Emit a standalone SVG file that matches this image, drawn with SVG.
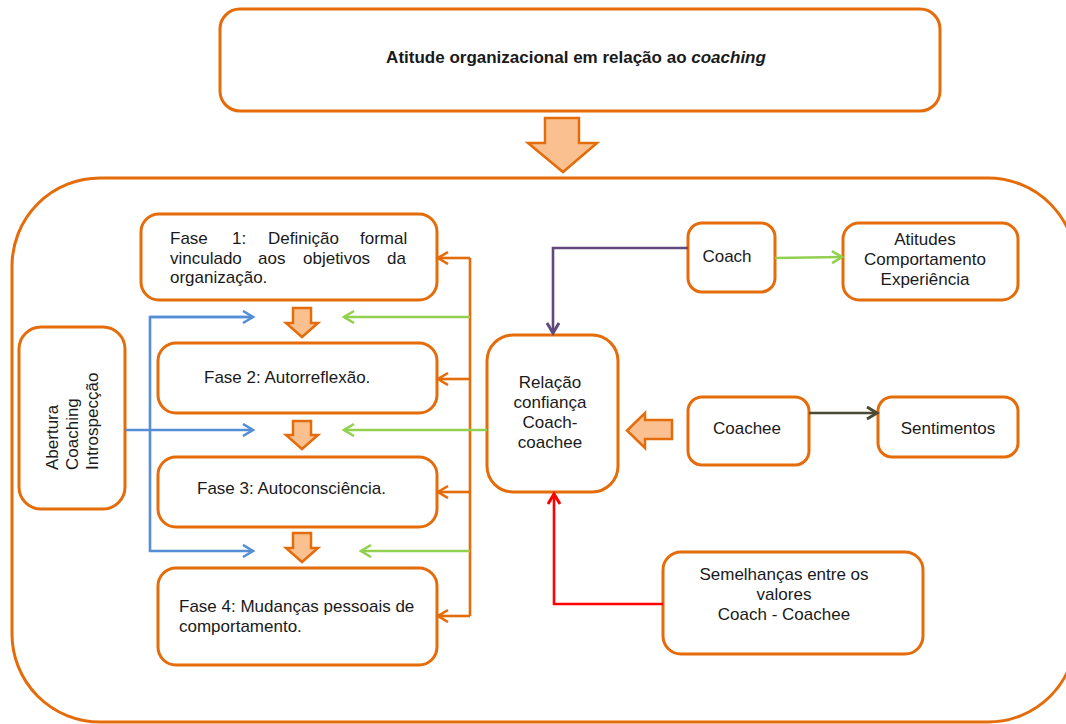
<svg xmlns="http://www.w3.org/2000/svg" width="1066" height="724" viewBox="0 0 1066 724">
<style>
.box{fill:#fff;stroke:#E46C0A;stroke-width:3}
.blk{fill:#FAC090;stroke:#E46C0A;stroke-width:2.5;stroke-linejoin:miter}
.t{font-family:"Liberation Sans",Arial,sans-serif;font-size:17px;fill:#1a1a1a}
.c{text-anchor:middle}
.ln{fill:none;stroke-width:2.6;stroke-linejoin:miter}
</style>
<defs>
<marker id="mBlue" markerUnits="userSpaceOnUse" markerWidth="14" markerHeight="16" refX="11" refY="7" orient="auto"><path d="M1,1 L11,7 L1,13" fill="none" stroke="#558ED5" stroke-width="2.6"/></marker>
<marker id="mGreen" markerUnits="userSpaceOnUse" markerWidth="14" markerHeight="16" refX="11" refY="7" orient="auto"><path d="M1,1 L11,7 L1,13" fill="none" stroke="#92D050" stroke-width="2.6"/></marker>
<marker id="mOrange" markerUnits="userSpaceOnUse" markerWidth="14" markerHeight="16" refX="11" refY="7" orient="auto"><path d="M1,1 L11,7 L1,13" fill="none" stroke="#E46C0A" stroke-width="2.6"/></marker>
<marker id="mPurple" markerUnits="userSpaceOnUse" markerWidth="14" markerHeight="16" refX="11" refY="7" orient="auto"><path d="M1,1 L11,7 L1,13" fill="none" stroke="#604A7B" stroke-width="3"/></marker>
<marker id="mRed" markerUnits="userSpaceOnUse" markerWidth="14" markerHeight="16" refX="11" refY="7" orient="auto"><path d="M1,1 L11,7 L1,13" fill="none" stroke="#FF0000" stroke-width="3"/></marker>
<marker id="mDark" markerUnits="userSpaceOnUse" markerWidth="14" markerHeight="16" refX="11" refY="7" orient="auto"><path d="M1,1 L11,7 L1,13" fill="none" stroke="#4A4A35" stroke-width="3"/></marker>
</defs>
<rect width="1066" height="724" fill="#fff"/>

<g id="container"><rect class="box" x="12" y="178" width="1064" height="544" rx="88"/></g>

<g id="top">
<rect class="box" x="220" y="9" width="720" height="102" rx="20"/>
<text class="t c" x="576" y="63" style="font-weight:bold">Atitude organizacional em relação ao <tspan font-style="italic">coaching</tspan></text>
</g>
<g id="top-arrow"><path class="blk" d="M545,118 H579 V143 H597 L563,172 L528,143 H545 Z"/></g>

<g id="fase1">
<rect class="box" x="141" y="214" width="296" height="86" rx="18"/>
<text class="t" y="244"><tspan x="170">Fase</tspan><tspan x="232">1:</tspan><tspan x="268">Definição</tspan><tspan x="360">formal</tspan></text>
<text class="t" y="264"><tspan x="170">vinculado</tspan><tspan x="258">aos</tspan><tspan x="303">objetivos</tspan><tspan x="387">da</tspan></text>
<text class="t" x="170" y="283">organização.</text>
</g>
<g id="fase2">
<rect class="box" x="158" y="343" width="279" height="70" rx="18"/>
<text class="t" x="204" y="383">Fase 2: Autorreflexão.</text>
</g>
<g id="fase3">
<rect class="box" x="158" y="457" width="279" height="70" rx="18"/>
<text class="t" x="197" y="494">Fase 3: Autoconsciência.</text>
</g>
<g id="fase4">
<rect class="box" x="158" y="568" width="279" height="97" rx="18"/>
<text class="t" x="179" y="612">Fase 4: Mudanças pessoais de</text>
<text class="t" x="179" y="632">comportamento.</text>
</g>

<g id="phase-arrows">
<path class="blk" d="M293,308 H311 V323 H318 L302,337 L286,323 H293 Z"/>
<path class="blk" d="M293,421 H311 V435 H318 L302,449 L286,435 H293 Z"/>
<path class="blk" d="M293,533 H311 V548 H318 L302,562 L286,548 H293 Z"/>
</g>

<g id="abertura">
<rect class="box" x="19" y="327" width="106" height="182" rx="22"/>
<g transform="translate(58,470) rotate(-90)">
<text class="t" x="0" y="0">Abertura</text>
<text class="t" x="0" y="20">Coaching</text>
<text class="t" x="0" y="40">Introspecção</text>
</g>
</g>

<g id="relacao">
<rect class="box" x="487" y="335" width="131" height="157" rx="26"/>
<text class="t c" x="550" y="388">Relação</text>
<text class="t c" x="550" y="408">confiança</text>
<text class="t c" x="550" y="428">Coach-</text>
<text class="t c" x="550" y="448">coachee</text>
</g>

<g id="coach">
<rect class="box" x="688" y="223" width="87" height="69" rx="14"/>
<text class="t c" x="727" y="262">Coach</text>
</g>
<g id="atitudes">
<rect class="box" x="843" y="223" width="175" height="77" rx="16"/>
<text class="t c" x="925" y="245">Atitudes</text>
<text class="t c" x="925" y="265">Comportamento</text>
<text class="t c" x="925" y="285">Experiência</text>
</g>
<g id="coachee">
<rect class="box" x="688" y="397" width="121" height="68" rx="14"/>
<text class="t c" x="747" y="434">Coachee</text>
</g>
<g id="sentimentos">
<rect class="box" x="878" y="397" width="140" height="60" rx="14"/>
<text class="t c" x="948" y="434">Sentimentos</text>
</g>
<g id="semelhancas">
<rect class="box" x="663" y="552" width="260" height="102" rx="18"/>
<text class="t c" x="784" y="580">Semelhanças entre os</text>
<text class="t c" x="784" y="600">valores</text>
<text class="t c" x="784" y="620">Coach - Coachee</text>
</g>
<g id="coachee-arrow"><path class="blk" d="M672,420 H645 V413 L627,430.5 L645,448 V439 H672 Z"/></g>

<g id="connectors">
<path class="ln" stroke="#E46C0A" d="M470,258 V616"/>
<path class="ln" stroke="#E46C0A" d="M470,258 H438" marker-end="url(#mOrange)"/>
<path class="ln" stroke="#E46C0A" d="M470,379 H438" marker-end="url(#mOrange)"/>
<path class="ln" stroke="#E46C0A" d="M470,492 H438" marker-end="url(#mOrange)"/>
<path class="ln" stroke="#E46C0A" d="M470,616 H438" marker-end="url(#mOrange)"/>

<path class="ln" stroke="#92D050" d="M470,317 H344" marker-end="url(#mGreen)"/>
<path class="ln" stroke="#92D050" d="M487,430 H344" marker-end="url(#mGreen)"/>
<path class="ln" stroke="#92D050" d="M470,551 H361" marker-end="url(#mGreen)"/>

<path class="ln" stroke="#558ED5" d="M253,317 H150 V551 H253" marker-end="url(#mBlue)"/>
<path class="ln" stroke="#558ED5" d="M150,317 H253" marker-end="url(#mBlue)"/>
<path class="ln" stroke="#558ED5" d="M125,430 H253" marker-end="url(#mBlue)"/>

<path class="ln" stroke="#604A7B" stroke-width="3" d="M688,248 H553 V333" marker-end="url(#mPurple)"/>
<path class="ln" stroke="#92D050" d="M775,258 L842,257" marker-end="url(#mGreen)"/>
<path class="ln" stroke="#4A4A35" stroke-width="3" d="M809,413 H877" marker-end="url(#mDark)"/>
<path class="ln" stroke="#FF0000" stroke-width="3" d="M663,604 H554 V494" marker-end="url(#mRed)"/>
</g>
</svg>
